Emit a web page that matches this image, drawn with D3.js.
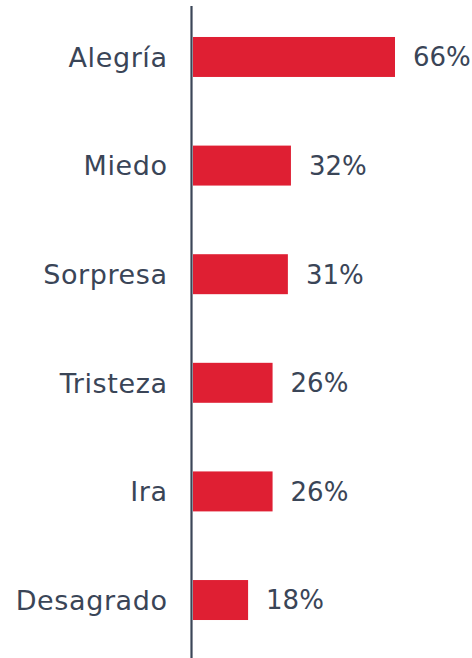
<!DOCTYPE html>
<html>
<head>
<meta charset="utf-8">
<script src="https://cdn.jsdelivr.net/npm/d3@7"></script>
<style>
  html, body { margin: 0; padding: 0; background: #fff; }
  svg { display: block; }
  text { font-family: "DejaVu Sans", sans-serif; fill: #3a4557; }
</style>
</head>
<body>
<script>
// ----- data -----
const categories = ['Alegría', 'Miedo', 'Sorpresa', 'Tristeza', 'Ira', 'Desagrado'];
const values = [66, 32, 31, 26, 26, 18];
const labels = ['66%', '32%', '31%', '26%', '26%', '18%'];

const width = 472;
const height = 658;

const svg = d3.select('body')
  .append('svg')
  .attr('width', width)
  .attr('height', height);

// band scale for rows, linear for bar length
const y = d3.scaleBand()
  .domain(categories)
  .range([4.4, 652.6])
  .paddingInner(0.632)
  .paddingOuter(0.3);

const x = d3.scaleLinear()
  .domain([0, 66])
  .range([193, 395]);

const rows = categories.map((c, i) => ({ cat: c, value: values[i], label: labels[i] }));

// bars
svg.selectAll('.bar')
  .data(rows)
  .join('rect')
  .attr('class', 'bar')
  .attr('x', x(0))
  .attr('y', d => y(d.cat))
  .attr('width', d => x(d.value) - x(0))
  .attr('height', y.bandwidth())
  .attr('fill', '#df1f33');

// category labels on the left
svg.selectAll('.cat')
  .data(rows)
  .join('text')
  .attr('class', 'cat')
  .attr('x', 167.6)
  .attr('y', d => y(d.cat) + y.bandwidth() / 2)
  .attr('dy', '0.36em')
  .attr('text-anchor', 'end')
  .style('font-size', '27px')
  .style('letter-spacing', '0.6px')
  .text(d => d.cat);

// value labels
svg.selectAll('.val')
  .data(rows)
  .join('text')
  .attr('class', 'val')
  .attr('x', d => x(d.value) + 18)
  .attr('y', d => y(d.cat) + y.bandwidth() / 2)
  .attr('dy', '0.36em')
  .style('font-size', '26px')
  .text(d => d.label);

// vertical axis line
svg.append('line')
  .attr('x1', 191.5)
  .attr('x2', 191.5)
  .attr('y1', 6)
  .attr('y2', height)
  .attr('stroke', '#3b4658')
  .attr('stroke-width', 2.2);
</script>
</body>
</html>
